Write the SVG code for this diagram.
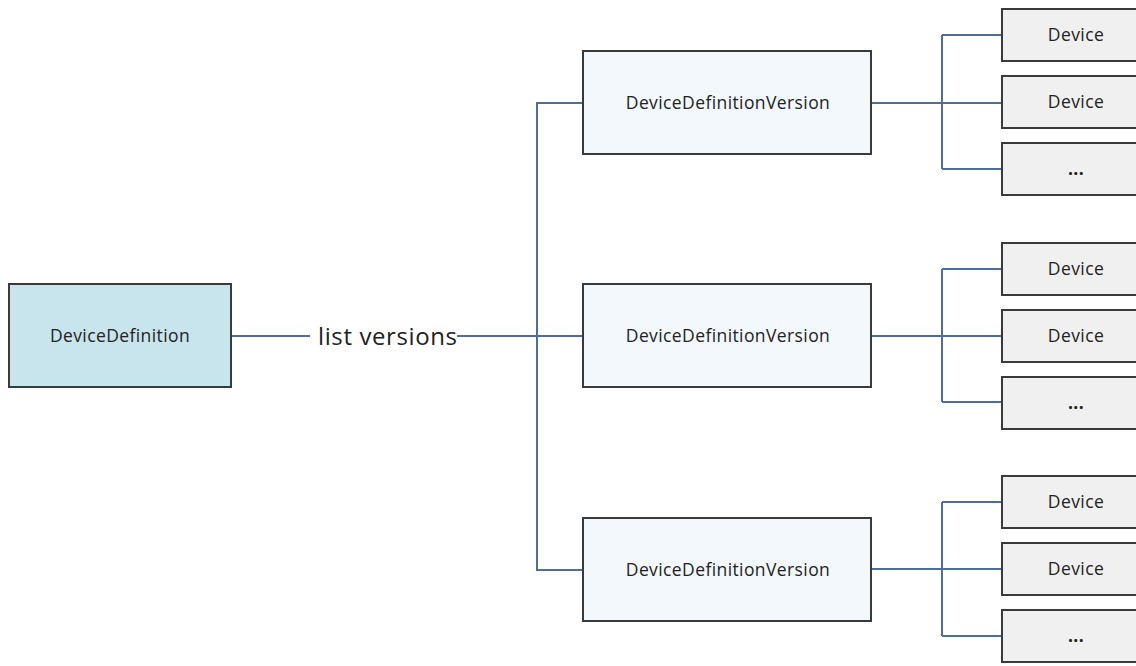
<svg xmlns="http://www.w3.org/2000/svg" width="1136" height="666" viewBox="0 0 1136 666">
<style>
.box{stroke:#3a3a3a;stroke-width:2}
.root{fill:#c8e4ec}
.ver{fill:#f2f8fb}
.dev{fill:#f0f0f0}
.t{font-family:"Open Sans","Noto Sans",sans-serif;font-size:17.5px;letter-spacing:0.4px;fill:#222;text-anchor:middle;dominant-baseline:central}
.dots{font-weight:bold}
.lbl{font-family:"Open Sans","Noto Sans",sans-serif;font-size:24px;fill:#222;dominant-baseline:central}
.c{fill:none;stroke:#4f6d99;stroke-width:2}
</style>
<rect width="1136" height="666" fill="#ffffff"/>
<g id="connectors">
<path class="c" d="M231 336H310M457 336H583"/>
<path class="c" d="M583 103H537V570H583"/>
<path class="c" d="M871 103H1002M942 35V169M942 35H1002M942 169H1002"/>
<path class="c" d="M871 336H1002M942 269V402M942 269H1002M942 402H1002"/>
<path class="c" d="M871 569H1002M942 502V636M942 502H1002M942 636H1002"/>
<text class="lbl" x="318" y="335" textLength="139">list versions</text>
</g>
<g id="n-def"><rect class="box root" x="9" y="284" width="222" height="103"/><text class="t" x="120" y="335">DeviceDefinition</text></g>
<g id="n-ver1"><rect class="box ver" x="583" y="51" width="288" height="103"/><text class="t" x="728" y="102">DeviceDefinitionVersion</text></g>
<g id="n-ver2"><rect class="box ver" x="583" y="284" width="288" height="103"/><text class="t" x="728" y="335">DeviceDefinitionVersion</text></g>
<g id="n-ver3"><rect class="box ver" x="583" y="518" width="288" height="103"/><text class="t" x="728" y="569">DeviceDefinitionVersion</text></g>
<g id="n-d11"><rect class="box dev" x="1002" y="9" width="148" height="52"/><text class="t" x="1076" y="34">Device</text></g>
<g id="n-d12"><rect class="box dev" x="1002" y="76" width="148" height="52"/><text class="t" x="1076" y="101">Device</text></g>
<g id="n-d13"><rect class="box dev" x="1002" y="143" width="148" height="52"/><text class="t dots" x="1076" y="168">...</text></g>
<g id="n-d21"><rect class="box dev" x="1002" y="243" width="148" height="52"/><text class="t" x="1076" y="268">Device</text></g>
<g id="n-d22"><rect class="box dev" x="1002" y="310" width="148" height="52"/><text class="t" x="1076" y="335">Device</text></g>
<g id="n-d23"><rect class="box dev" x="1002" y="377" width="148" height="52"/><text class="t dots" x="1076" y="402">...</text></g>
<g id="n-d31"><rect class="box dev" x="1002" y="476" width="148" height="52"/><text class="t" x="1076" y="501">Device</text></g>
<g id="n-d32"><rect class="box dev" x="1002" y="543" width="148" height="52"/><text class="t" x="1076" y="568">Device</text></g>
<g id="n-d33"><rect class="box dev" x="1002" y="610" width="148" height="52"/><text class="t dots" x="1076" y="635">...</text></g>
</svg>
